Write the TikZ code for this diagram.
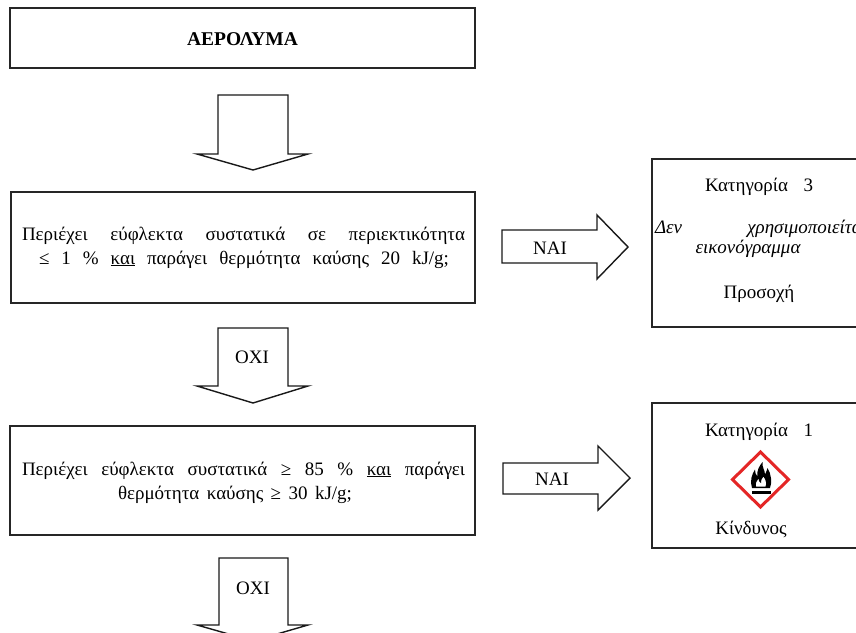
\documentclass[tikz,border=0pt]{standalone}
\usepackage{fontspec}
\setmainfont{Liberation Serif}
\definecolor{ghsred}{RGB}{228,38,38}
\begin{document}
\begin{tikzpicture}[x=1pt,y=-1pt,
  box/.style={draw=black!85, line width=1.8pt, fill=white, inner sep=0pt},
  barrow/.style={draw=black!90, line width=1.4pt, fill=white, line join=miter},
  txt/.style={font=\fontsize{19}{23}\selectfont, inner sep=0pt, anchor=base},
  lab/.style={font=\fontsize{19}{23}\selectfont, inner sep=0pt, anchor=base}]
\useasboundingbox (0,0) rectangle (856,632);
\clip (0,0) rectangle (856,632);
\fill[white] (0,0) rectangle (856,632);

% boxes
\node[box, minimum width=465pt, minimum height=60pt] (title) at (242.5,38) {};
\node[box, minimum width=464pt, minimum height=111pt] (q1) at (243,247.5) {};
\node[box, minimum width=465pt, minimum height=109pt] (q2) at (242.5,480.5) {};
\node[box, minimum width=214pt, minimum height=168pt] (r1) at (759,243) {};
\node[box, minimum width=214pt, minimum height=145pt] (r2) at (759,475.5) {};

% title text
\node[txt, font=\fontsize{19.5}{23}\selectfont\bfseries] (t0) at (242.5,45) {ΑΕΡΟΛΥΜΑ};

% question 1
\node[txt] (q1a) at (243.5,240) {\makebox[443pt][s]{Περιέχει εύφλεκτα συστατικά σε περιεκτικότητα}};
\node[txt] (q1b) at (244,264) {\makebox[410pt][s]{≤ 1 \% \underline{και} παράγει θερμότητα καύσης 20 kJ/g;}};

% question 2
\node[txt] (q2a) at (243.5,475) {\makebox[443pt][s]{Περιέχει εύφλεκτα συστατικά ≥ 85 \% \underline{και} παράγει}};
\node[txt] (q2b) at (235,499) {\makebox[234pt][s]{θερμότητα καύσης ≥ 30 kJ/g;}};

% result 1
\node[txt] (r1a) at (759,191) {\makebox[108pt][s]{Κατηγορία 3}};
\node[txt] (r1b) at (761,233) {\makebox[212pt][s]{\itshape Δεν χρησιμοποιείται}};
\node[txt] (r1c) at (748,253) {\itshape εικονόγραμμα};
\node[txt] (r1d) at (759,298) {Προσοχή};

% result 2
\node[txt] (r2a) at (759,436) {\makebox[108pt][s]{Κατηγορία 1}};
\node[txt] (r2c) at (751,534) {Κίνδυνος};

% pictogram
\draw[ghsred, line width=3pt, fill=white, line join=miter] (760.5,452) -- (788.5,479.5) -- (760.5,507) -- (732.5,479.5) -- cycle;
\fill[black, even odd rule]
  (752,488) .. controls (749.5,481) and (752,474) .. (755,469.5)
  .. controls (755.5,474) .. (757.5,476.5)
  .. controls (756.5,470) and (759.5,466) .. (762.5,462)
  .. controls (762,468) and (765,470) .. (765,474.5)
  .. controls (766,472.5) .. (767.5,468)
  .. controls (771.5,474) and (772,483) .. (770,488) -- cycle
  (756,486.5) .. controls (755,483) and (757,480.5) .. (758.5,478.5)
  .. controls (759,481.5) .. (761,483)
  .. controls (761,480) .. (763.5,476.5)
  .. controls (766.5,480.5) and (766.5,484.5) .. (765.5,486.5) -- cycle;
\fill[black] (752,491) rectangle (771,493.5);

% down arrows
\draw[barrow] (218,95) -- (288,95) -- (288,154) -- (308,154) -- (253,170) -- (197,154) -- (218,154) -- cycle;
\draw[barrow] (218,328) -- (288,328) -- (288,386) -- (308,386) -- (253,403) -- (197,386) -- (218,386) -- cycle;
\draw[barrow] (219,558) -- (288,558) -- (288,625) -- (308,625) -- (253,641) -- (197,625) -- (219,625) -- cycle;
\node[lab] (oxi1) at (252,363) {ΟΧΙ};
\node[lab] (oxi2) at (253,594) {ΟΧΙ};

% right arrows
\draw[barrow] (502,230) -- (597,230) -- (597,215) -- (628,247) -- (597,279) -- (597,263) -- (502,263) -- cycle;
\draw[barrow] (503,463) -- (598,463) -- (598,446) -- (630,478) -- (598,510) -- (598,494) -- (503,494) -- cycle;
\node[lab] (nai1) at (550,254) {ΝΑΙ};
\node[lab] (nai2) at (552,485) {ΝΑΙ};
\end{tikzpicture}
\end{document}
